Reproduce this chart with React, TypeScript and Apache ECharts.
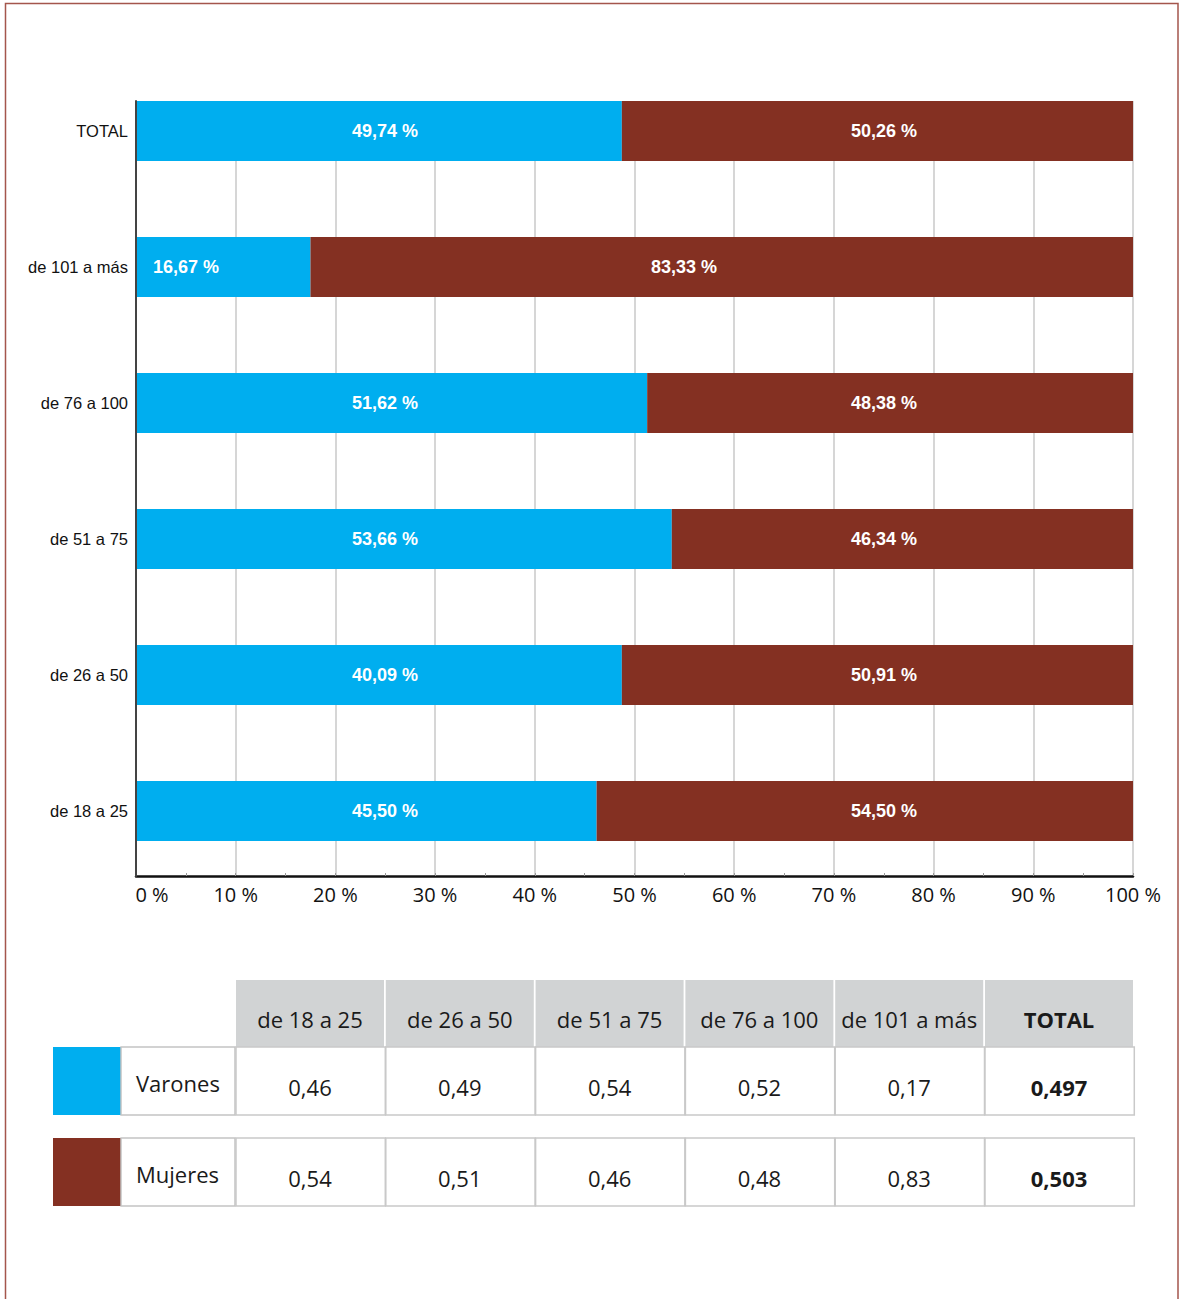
import React, { useEffect, useRef } from "react";
import * as echarts from "echarts";

const categories = ["de 18 a 25", "de 26 a 50", "de 51 a 75", "de 76 a 100", "de 101 a más", "TOTAL"];
const varonesBar = [46.2, 48.73, 53.74, 51.27, 17.5, 48.73];
const mujeresBar = [53.8, 51.27, 46.26, 48.73, 82.5, 51.27];
const varonesLabels = ["45,50 %", "40,09 %", "53,66 %", "51,62 %", "16,67 %", "49,74 %"];
const mujeresLabels = ["54,50 %", "50,91 %", "46,34 %", "48,38 %", "83,33 %", "50,26 %"];

const tableHeaders = ["de 18 a 25", "de 26 a 50", "de 51 a 75", "de 76 a 100", "de 101 a más", "TOTAL"];
const rowNames = ["Varones", "Mujeres"];
const varonesTable = ["0,46", "0,49", "0,54", "0,52", "0,17", "0,497"];
const mujeresTable = ["0,54", "0,51", "0,46", "0,48", "0,83", "0,503"];

const BLUE = "#00aeef";
const BROWN = "#843022";
const NARROW = "'Liberation Sans Narrow', 'Liberation Sans', sans-serif";
const SANS = "'Open Sans', 'Noto Sans', sans-serif";

function buildTable(): any[] {
  const els: any[] = [];
  const colX0 = 236;
  const pitch = 149.8;
  const cellW = 148;
  tableHeaders.forEach((h, i) => {
    const x = colX0 + i * pitch;
    els.push({ type: "rect", shape: { x, y: 980, width: cellW, height: 67 }, style: { fill: "#d1d3d4" } });
    els.push({
      type: "text",
      x: x + cellW / 2,
      y: 1019,
      style: {
        text: h,
        fill: "#1a1a1a",
        font: (i === 5 ? "bold " : "") + "22px " + SANS,
        align: "center",
        verticalAlign: "middle",
      },
    });
  });
  const rows = [
    { y: 1047, color: BLUE, name: rowNames[0], vals: varonesTable },
    { y: 1138, color: BROWN, name: rowNames[1], vals: mujeresTable },
  ];
  rows.forEach((r) => {
    els.push({ type: "rect", shape: { x: 53, y: r.y, width: 68, height: 68 }, style: { fill: r.color } });
    els.push({
      type: "rect",
      shape: { x: 121, y: r.y, width: 114, height: 68 },
      style: { fill: "#fff", stroke: "#c4c4c4", lineWidth: 1.5 },
    });
    els.push({
      type: "text",
      x: 136,
      y: r.y + 36,
      style: { text: r.name, fill: "#1a1a1a", font: "22px " + SANS, align: "left", verticalAlign: "middle" },
    });
    r.vals.forEach((v, i) => {
      const x = colX0 + i * pitch;
      els.push({
        type: "rect",
        shape: { x, y: r.y, width: pitch - 0.5, height: 68 },
        style: { fill: "#fff", stroke: "#c9c9c9", lineWidth: 1.5 },
      });
      els.push({
        type: "text",
        x: x + cellW / 2,
        y: r.y + 40,
        style: {
          text: v,
          fill: "#1a1a1a",
          font: (i === 5 ? "bold " : "") + "22px " + SANS,
          align: "center",
          verticalAlign: "middle",
        },
      });
    });
  });
  els.push({
    type: "rect",
    shape: { x: 5.5, y: 3.5, width: 1172.5, height: 1330 },
    style: { fill: "none", stroke: "#a4564c", lineWidth: 1.5 },
    z: 100,
  });
  return els;
}

export default function App() {
  const ref = useRef<HTMLDivElement>(null);
  useEffect(() => {
    document.body.style.margin = "0";
    if (!ref.current) return;
    const chart = echarts.init(ref.current, undefined, { renderer: "svg" });
    const barLabelBase = {
      show: true,
      color: "#fff",
      fontFamily: NARROW,
      fontWeight: "bold" as const,
      fontSize: 18,
    };
    chart.setOption({
      animation: false,
      backgroundColor: "#fff",
      grid: [
        { left: 136, right: 46, top: 63, height: 816 },
        { left: 136, right: 46, top: 101, height: 775 },
      ],
      xAxis: [
        { type: "value", gridIndex: 0, min: 0, max: 100, show: false },
        {
          type: "value",
          gridIndex: 1,
          min: 0,
          max: 100,
          interval: 10,
          axisLine: { show: true, lineStyle: { color: "#111", width: 2.5 } },
          axisTick: { show: true, inside: true, length: 3, lineStyle: { color: "#999" } },
          minorTick: { show: true, splitNumber: 2, length: 3, lineStyle: { color: "#999" } },
          splitLine: { show: true, lineStyle: { color: "#c8c8c8", width: 1.5 } },
          axisLabel: {
            margin: 8,
            fontFamily: SANS,
            fontSize: 20,
            color: "#111",
            formatter: (v: number) => (v === 0 ? "{f|0 %}" : v + " %"),
            rich: { f: { padding: [0, 0, 0, 32], fontFamily: SANS, fontSize: 20, color: "#111" } },
          },
        },
      ],
      yAxis: [
        {
          type: "category",
          gridIndex: 0,
          data: categories,
          axisLine: { show: false },
          axisTick: { show: false },
          axisLabel: { margin: 8, fontFamily: NARROW, fontSize: 16.5, color: "#111" },
        },
        {
          type: "value",
          gridIndex: 1,
          min: 0,
          max: 1,
          z: 5,
          axisLine: { show: true, lineStyle: { color: "#444", width: 2 } },
          axisTick: { show: false },
          axisLabel: { show: false },
          splitLine: { show: false },
        },
      ],
      series: [
        {
          name: "Varones",
          type: "bar",
          stack: "total",
          xAxisIndex: 0,
          yAxisIndex: 0,
          barWidth: 60,
          itemStyle: { color: BLUE },
          data: varonesBar.map((v, i) => ({
            value: v,
            label: {
              ...barLabelBase,
              position: "insideLeft",
              distance: i === 4 ? 17 : 216,
              formatter: () => varonesLabels[i],
            },
          })),
        },
        {
          name: "Mujeres",
          type: "bar",
          stack: "total",
          xAxisIndex: 0,
          yAxisIndex: 0,
          barWidth: 60,
          itemStyle: { color: BROWN },
          data: mujeresBar.map((v, i) => ({
            value: v,
            label: {
              ...barLabelBase,
              position: "insideRight",
              distance: i === 4 ? 416 : 216,
              formatter: () => mujeresLabels[i],
            },
          })),
        },
      ],
      graphic: buildTable(),
    });
    return () => chart.dispose();
  }, []);
  return <div ref={ref} style={{ width: 1179, height: 1299 }} />;
}
